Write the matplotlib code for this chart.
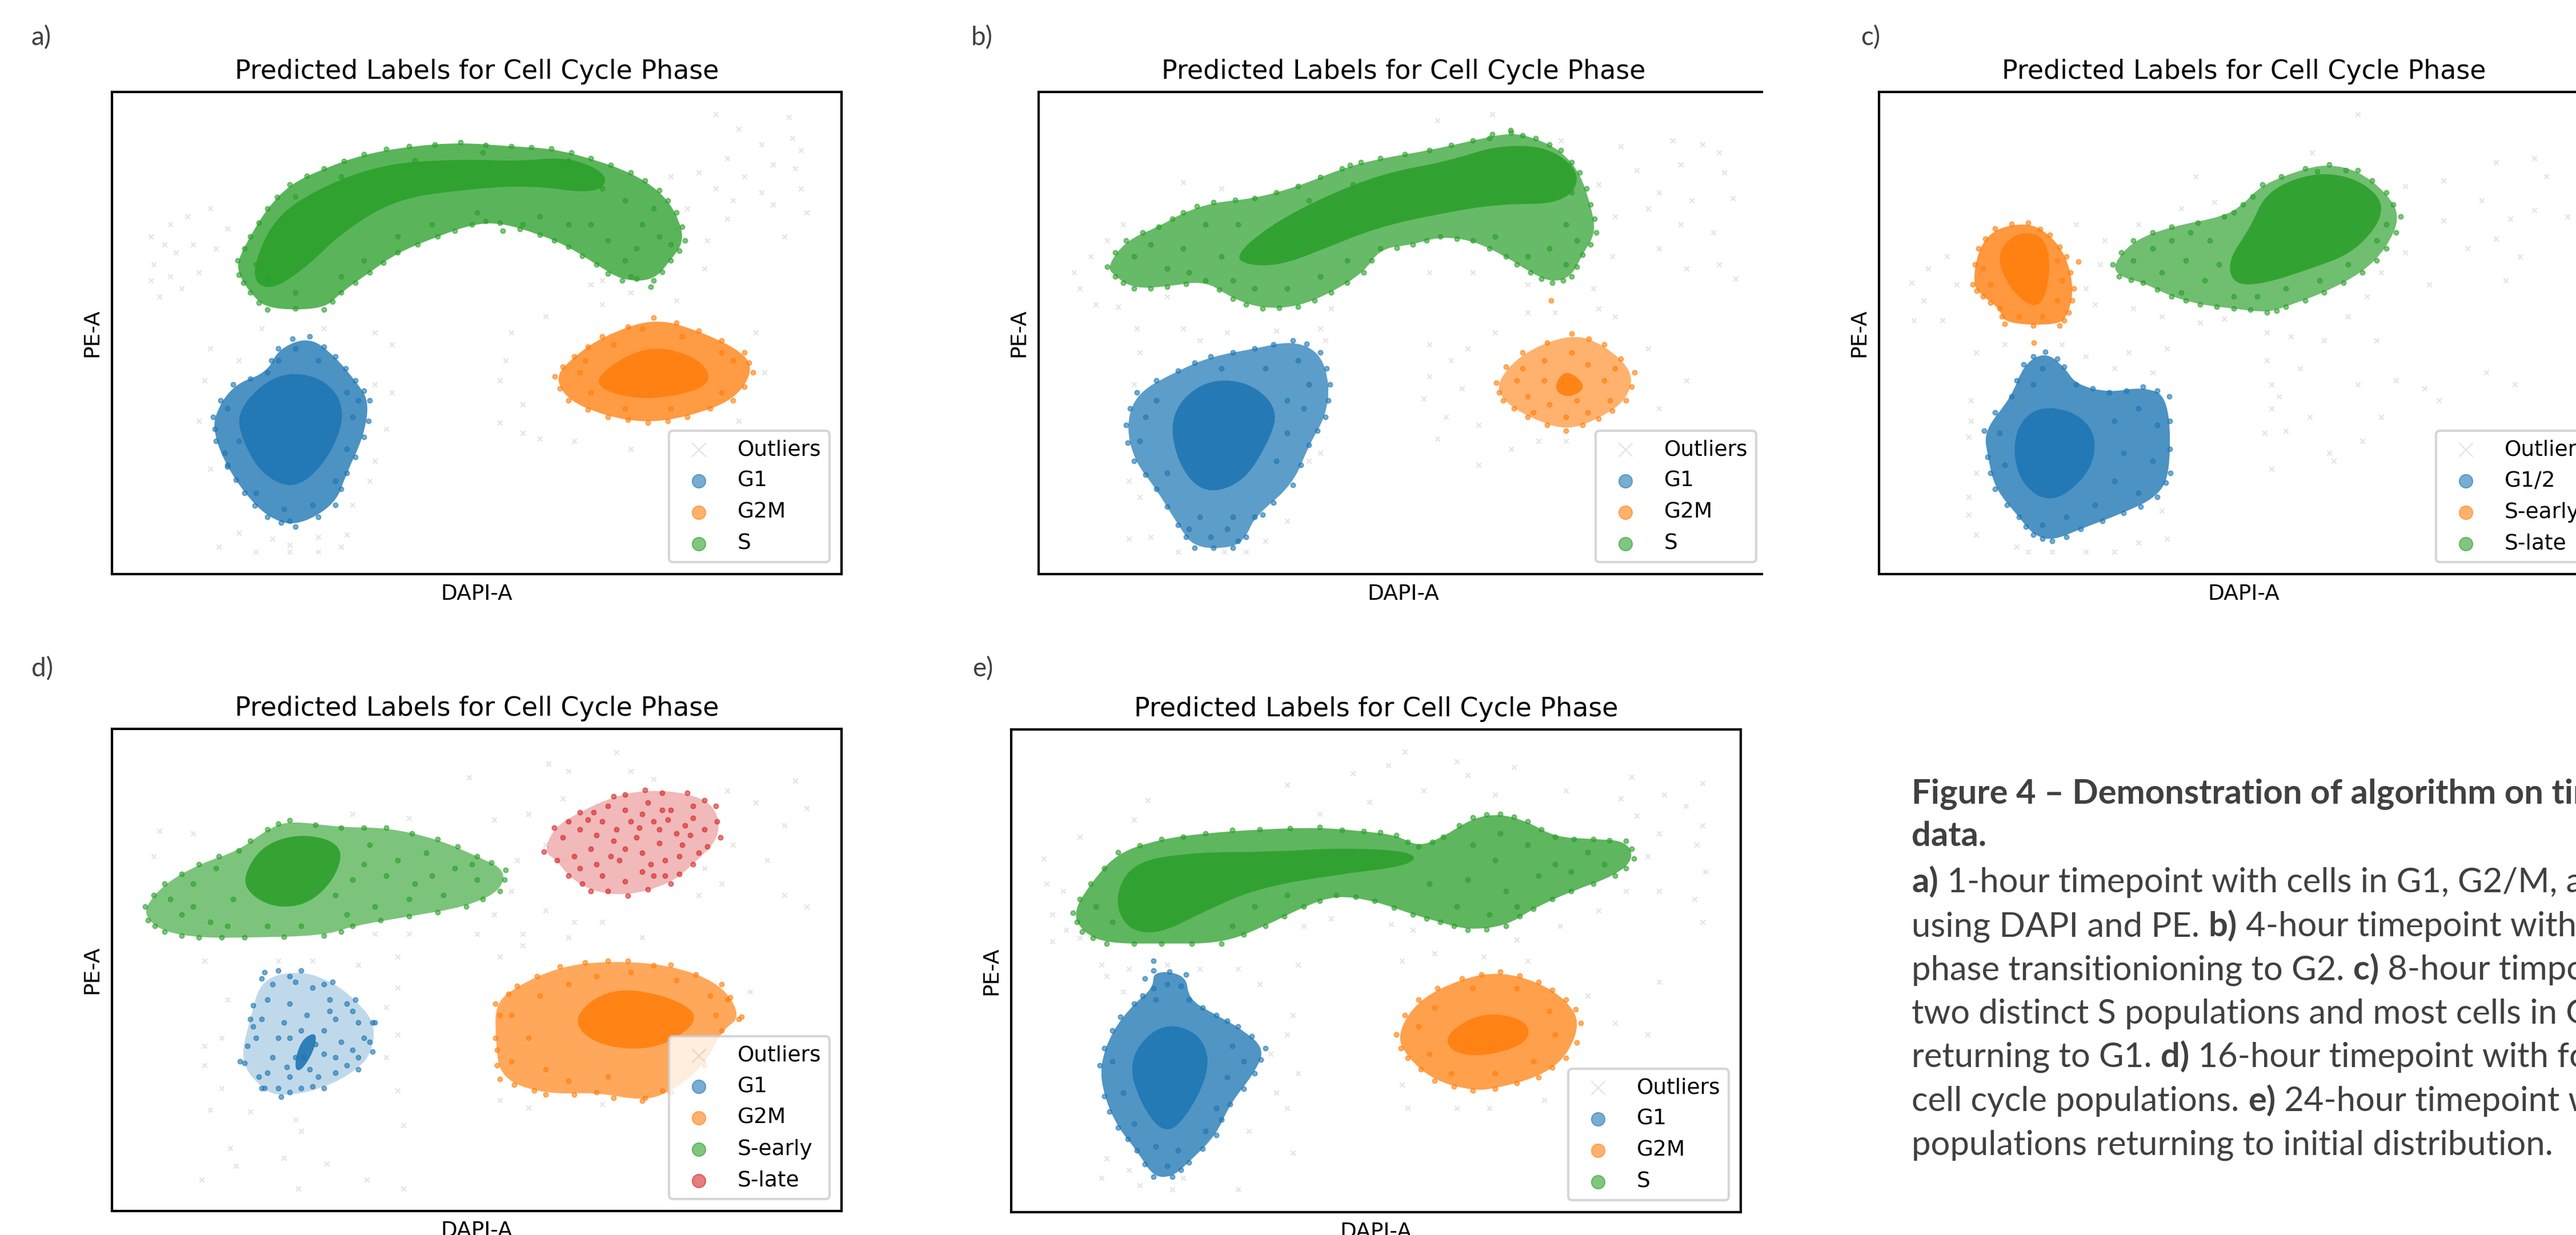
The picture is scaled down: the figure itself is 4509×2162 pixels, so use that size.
import matplotlib
matplotlib.use("Agg")
import matplotlib.pyplot as plt
from matplotlib.patches import PathPatch
from matplotlib.path import Path
import numpy as np

W, H, DPI = 4509, 2162, 300
BLUE, ORANGE, GREEN, RED = "#1f77b4", "#ff7f0e", "#2ca02c", "#d62728"
TITLE = "Predicted Labels for Cell Cycle Phase"
XLABEL = "DAPI-A"
YLABEL = "PE-A"

# All values are estimated by eye from the reference. Axes have no ticks, so the
# data unit is arbitrary. EDGE = outline of a population, CORE = its dense centre,
# DOTS = individually read cells.

# ---------- panel a ----------
A_S_EDGE = [(418,650),(440,590),(470,520),(510,460),(570,420),(640,385),(720,365),(810,355),(900,365),(970,370),(1040,395),(1110,430),(1160,475),(1190,530),(1205,600),(1180,650),(1150,700),(1095,700),(1050,660),(1000,615),(950,585),(880,555),(830,560),(770,590),(700,630),(650,680),(600,730),(570,772),(470,772),(440,730),(420,685)]
A_S_CORE = [(490,630),(520,540),(580,480),(680,425),(800,415),(880,420),(960,410),(1020,450),(1000,490),(900,470),(800,480),(700,500),(620,570),(570,640),(520,690),(490,680)]
A_S_DOTS = [(1100,500),(1130,560),(1160,590),(1120,620),(1070,600),(1040,560),(1100,650),(1000,560),(950,540),(840,530),(760,560),(700,590),(640,650),(600,690),(520,730),(470,700),(450,660),(1150,520),(1060,470),(1180,610),(730,400),(850,380),(600,440),(520,490),(1000,400),
(430,620),(455,555),(488,492),(540,438),(605,402),(680,372),(765,360),(855,362),(935,368),(1005,380),(1075,412),(1135,450),(1175,500),(1200,565),(1195,625),(1165,678),(1120,695),(1070,682),(1025,638),(975,600),(915,572),(855,552),(800,575),(735,610),(675,655),(625,705),(585,752),(520,770),(455,755),(428,705),(1110,690),(920,560),(885,575),(1145,715)]
A_G1_EDGE = [(375,1040),(410,960),(470,930),(490,870),(545,840),(590,890),(625,950),(650,1000),(640,1090),(610,1180),(590,1260),(520,1315),(470,1290),(430,1230),(400,1165),(380,1100)]
A_G1_CORE = [(430,1030),(490,950),(560,960),(595,1030),(570,1130),(520,1200),(470,1170),(440,1100)]
A_G1_DOTS = [(520,870),(560,900),(490,900),(610,980),(620,1040),(400,1020),(420,1100),(610,1120),(590,1200),(450,1230),(500,1270),(550,1260),(510,1300),(400,1160),(630,1000),
(388,1000),(440,945),(478,900),(515,845),(570,865),(608,920),(640,975),(648,1050),(625,1140),(600,1220),(560,1290),(495,1305),(448,1262),(415,1198),(395,1130),(378,1070)]
A_G2M_EDGE = [(976,940),(1010,890),(1060,840),(1150,793),(1230,825),(1310,880),(1325,930),(1290,1000),(1210,1040),(1140,1055),(1070,1040),(1000,1000)]
A_G2M_CORE = [(1060,940),(1140,870),(1220,900),(1240,960),(1150,990),(1080,975)]
A_G2M_DOTS = [(1020,930),(1040,980),(1100,1020),(1180,1020),(1270,980),(1290,900),(1270,880),(1080,860),(1130,820),(1200,840),(1030,900),
(990,915),(1035,865),(1105,815),(1190,805),(1270,850),(1318,905),(1310,965),(1250,1020),(1175,1050),(1105,1048),(1035,1022),(985,970)]
A_OUT = [(1260,285),(1388,292),(1300,322),(1395,345),(1340,360),(1410,375),(1280,395),(1360,410),(1400,420),(1230,430),(1310,440),(1180,440),(1260,470),(1340,480),(1410,470),(1290,500),(1360,510),(1420,530),(1210,520),(1280,545),(1380,590),(1245,600),(1190,570),
(265,590),(300,560),(330,540),(370,520),(400,570),(290,610),(340,610),(380,620),(310,630),(270,660),(300,690),(350,680),(280,740),(320,720),(265,700),
(460,820),(570,820),(660,830),(370,870),(420,900),(690,860),(360,950),(660,960),(690,980),(350,1050),(680,1070),(370,1170),(660,1150),(650,1200),(620,1260),(420,1330),(480,1345),(510,1360),(560,1340),(610,1335),(450,1378),(560,1378),(385,1365),(600,1365),(510,1378),
(900,830),(960,790),(890,900),(880,950),(920,1010),(880,1055),(920,1080),(950,1095),(1010,1100),(1060,760),(1110,730),(1190,750),(1060,700),(1240,670),(1330,830),(1345,930),(1110,1120),(1300,1050),(1040,710)]

# ---------- panel b ----------
B_S_EDGE = [(290,665),(325,600),(385,565),(430,530),(485,505),(560,495),(640,465),(720,420),(790,395),(880,375),(960,350),(1030,330),(1075,345),(1120,375),(1155,430),(1175,510),(1185,580),(1160,635),(1140,690),(1105,705),(1065,680),(1020,640),(960,600),(900,590),(850,610),(790,620),(760,680),(700,730),(640,765),(575,770),(520,745),(470,700),(400,715),(340,720),(305,690)]
B_S_CORE = [(570,620),(620,560),(700,500),(800,445),(900,420),(980,385),(1060,390),(1110,450),(1080,510),(980,510),(890,530),(790,560),(700,610),(640,640),(590,640)]
B_S_DOTS = [(340,640),(370,610),(400,670),(430,620),(470,560),(500,640),(520,700),(560,720),(620,720),(680,690),(730,650),(440,680),(530,560),(1130,560),(1150,600),(1100,620),(1060,640),(1000,590),(1130,660),(1140,480),(740,460),(660,500),
(305,630),(355,580),(410,545),(455,515),(525,498),(600,480),(680,442),(755,405),(835,385),(920,362),(995,335),(1050,338),(1100,360),(1140,405),(1168,470),(1182,545),(1175,610),(1150,665),(1125,700),(1085,695),(1040,660),(990,620),(930,595),(875,600),(820,618),(775,650),(730,705),(670,750),(605,768),(545,760),(495,722),(435,708),(370,720),(320,705),(735,412),(1028,325),(990,345)]
B_G1_EDGE = [(325,1060),(345,980),(420,925),(480,890),(560,870),(630,850),(680,880),(698,960),(690,1040),(660,1110),(630,1210),(560,1290),(545,1340),(520,1368),(450,1368),(420,1310),(380,1220),(340,1150)]
B_G1_CORE = [(420,1040),(470,970),(540,970),(590,1030),(570,1110),(530,1190),(470,1210),(430,1140)]
B_G1_DOTS = [(640,900),(660,960),(650,1020),(620,1080),(600,1150),(360,1040),(350,1100),(380,1000),(400,1180),(440,1320),(480,1340),(510,1320),(460,1290),(520,1290),(580,920),(500,920),(620,1000),
(332,1020),(380,950),(450,905),(520,880),(595,860),(655,858),(692,920),(695,1000),(675,1075),(645,1160),(595,1255),(575,1285),(530,1350),(485,1368),(435,1340),(400,1265),(360,1185),(328,1105)]
B_G2M_EDGE = [(1002,955),(1050,880),(1140,832),(1200,860),(1255,930),(1240,1000),(1190,1045),(1130,1075),(1060,1040),(1015,1000)]
B_G2M_CORE = [(1110,970),(1130,925),(1165,965),(1135,990)]
B_G2M_DOTS = [(1040,950),(1060,990),(1090,900),(1100,1010),(1140,880),(1170,910),(1200,950),(1210,1000),(1170,1030),(1130,1040),(1070,1030),(1090,950),(1220,920),(1050,920),(1150,1000),(1103,750),
(1020,915),(1095,855),(1172,845),(1230,895),(1250,965),(1215,1025),(1160,1060),(1095,1060),(1035,1020),(1008,980)]
B_OUT = [(895,300),(995,285),(1120,350),(1325,350),(1380,360),(1230,365),(1410,380),(1260,425),(1340,410),(1420,430),(1190,460),(1300,480),(1435,495),(1360,500),(1220,540),(1280,520),(1400,580),(1340,560),(1300,620),(1215,640),(1410,660),(1350,670),(1440,695),
(230,680),(260,640),(290,600),(240,720),(270,760),(310,765),(400,740),(700,770),(430,455),(500,470),(320,560),
(345,820),(430,820),(510,830),(600,825),(680,820),(460,850),(350,880),(690,850),(340,960),(330,1200),(350,1240),(680,1130),(660,1150),(620,1300),(330,1345),(370,1340),(420,1378),(505,1378),(545,1378),(580,1350),
(880,860),(920,900),(950,870),(1000,830),(1060,780),(1110,780),(1190,770),(1220,790),(880,940),(940,970),(870,995),(910,1040),(970,1060),(895,1095),(970,1160),(1030,1120),(1080,1100),(1130,1100),(1300,1020),(1350,950),(1280,870),(1060,710),(960,680),(880,680),(1180,720)]

# ---------- panel c ----------
C_L_EDGE = [(597,660),(640,600),(720,565),(830,540),(870,510),(910,460),(1000,420),(1050,410),(1110,425),(1170,480),(1200,540),(1170,620),(1120,680),(1040,730),(960,765),(920,780),(850,770),(780,760),(720,740),(660,705),(610,690)]
C_L_CORE = [(860,640),(900,570),(930,490),(1020,450),(1100,470),(1145,530),(1090,620),(1000,660),(920,690),(870,690)]
C_L_DOTS = [(640,650),(680,620),(720,600),(760,580),(800,600),(700,680),(750,650),(790,700),(740,730),(820,660),(850,740),(900,740),(960,720),(1030,700),(1090,660),(1150,600),(1170,560),
(615,630),(680,580),(775,555),(850,530),(890,490),(950,440),(1025,428),(1085,425),(1140,450),(1185,510),(1190,580),(1150,650),(1080,705),(1000,750),(940,775),(885,772),(815,765),(750,750),(690,722),(635,698)]
C_E_EDGE = [(303,710),(315,620),(350,570),(420,555),(465,585),(500,640),(515,720),(505,780),(485,812),(370,808),(360,770),(325,740)]
C_E_CORE = [(360,640),(400,590),(450,600),(460,680),(440,760),(390,720)]
C_E_DOTS = [(325,670),(340,710),(480,650),(490,700),(480,750),(400,790),(450,790),(432,855),(525,653),
(308,660),(330,595),(385,558),(445,572),(485,615),(508,680),(512,750),(495,800),(430,812),(365,790),(340,755),(312,725)]
C_G_EDGE = [(327,1075),(385,990),(410,910),(455,878),(495,915),(520,960),(590,980),(660,965),(715,990),(718,1180),(690,1240),(620,1280),(530,1320),(470,1350),(430,1335),(400,1290),(350,1220),(335,1140)]
C_G_CORE = [(400,1090),(440,1030),(510,1040),(550,1090),(540,1170),(470,1240),(410,1190)]
C_G_DOTS = [(450,920),(430,960),(600,1050),(650,1020),(690,1060),(620,1130),(680,1150),(600,1200),(650,1230),(560,1260),(500,1290),(450,1310),(370,1160),(360,1080),
(350,1030),(395,950),(430,890),(480,895),(555,970),(625,975),(690,975),(716,1050),(716,1120),(708,1205),(655,1265),(575,1300),(500,1340),(450,1345),(415,1315),(375,1260),(340,1180)]
C_OUT = [(1110,285),(1015,380),(1400,405),(1480,395),(770,440),(1290,450),(1505,440),(1210,465),(1370,500),(1480,525),(1290,550),(1430,545),(810,505),(740,520),(1400,595),(1550,540),(1210,630),(1340,620),(1450,640),(1160,680),(1260,710),(1130,740),(1420,700),
(175,705),(210,670),(250,640),(270,710),(200,750),(180,800),(240,800),(520,560),(580,600),(650,560),(570,660),(540,720),(560,760),(640,770),(700,790),(780,805),(830,795),(1090,790),
(310,880),(370,860),(490,860),(540,890),(630,880),(710,870),(600,920),(680,930),(300,1000),(300,1050),(295,1090),(310,1180),(295,1240),(295,1285),(310,1335),(395,1365),(420,1378),(470,1378),(540,1378),(600,1378),(650,1355),(710,1345),(700,1275),
(920,830),(970,840),(1040,850),(1150,850),(920,900),(990,920),(930,960),(945,990),(930,1020),(1010,1040),(915,1080),(960,1075),(930,1170),(1050,1130),(1110,960),(1160,1040),(1120,1100),(1190,950),(1250,970),(1380,930),(1440,960),(1280,1000),(1060,1150)]

# ---------- panel d ----------
D_E_EDGE = [(255,720),(290,660),(350,610),(420,575),(470,520),(510,497),(600,515),(680,515),(770,545),(840,590),(890,625),(880,680),(820,720),(720,745),(620,770),(570,795),(430,800),(350,800),(290,785),(260,755)]
D_E_CORE = [(440,640),(470,570),(530,545),(590,570),(580,640),(540,700),(490,710),(450,680)]
D_E_DOTS = [(300,700),(340,660),(380,620),(320,740),(370,760),(410,700),(650,560),(700,600),(750,580),(800,620),(840,650),(780,690),(720,700),(660,720),(620,650),(610,740),(470,770),(530,770),(400,770),(680,640),
(270,690),(320,635),(385,590),(440,550),(490,505),(555,508),(640,515),(725,530),(805,565),(865,605),(888,650),(850,700),(770,735),(670,755),(600,785),(500,798),(390,800),(320,795),(272,770),(340,720),(760,640),(590,690),(640,610),(730,660),(830,610)]
D_L_EDGE = [(957,578),(975,515),(1020,475),(1080,435),(1135,418),(1210,425),(1260,460),(1268,540),(1220,610),(1180,660),(1105,692),(1040,680),(1000,640),(980,600)]
D_L_DOTS = [(1020,520),(1060,500),(1100,470),(1140,450),(1180,470),(1220,490),(1160,520),(1120,540),(1080,550),(1040,570),(1010,590),(1090,600),(1130,630),(1170,600),(1200,560),(1240,520),(1060,640),(1020,620),(1150,500),(1190,530),(1110,500),(1075,590),(1130,580),(1170,640),(1230,580),
(990,540),(1000,500),(1045,475),(1100,430),(1165,425),(1240,445),(1262,500),(1245,565),(1195,635),(1140,675),(1070,680),(1025,660),(1160,555),(1205,510),(1130,480),(1085,520),(1050,535),(1165,470),(1215,535),(1100,570),(1145,610),(1100,655),(1050,610),(1195,590),(1220,460),(1125,515),(1175,495),(1035,495),(1070,460),(1150,640)]
D_G2M_EDGE = [(872,970),(910,925),(985,875),(1070,860),(1180,870),(1270,920),(1305,1005),(1270,1040),(1240,1130),(1180,1200),(1130,1222),(1050,1200),(960,1205),(880,1165),(872,1060)]
D_G2M_CORE = [(1020,1010),(1080,940),(1170,960),(1220,1010),(1150,1080),(1060,1070)]
D_G2M_DOTS = [(900,1000),(930,1060),(900,1120),(960,1140),(1000,1170),(1070,1160),(950,950),(1000,920),(1050,900),(1110,890),(1190,910),(1250,950),(1260,1000),(1280,960),
(880,1000),(895,945),(945,900),(1030,865),(1105,860),(1150,872),(1225,895),(1285,955),(1300,1010),(905,1180),(940,1195),(1010,1205),(1080,1215),(1135,1215),(1165,1195),(875,1130),(875,1090)]
D_G1_EDGE = [(422,1120),(440,1010),(460,905),(530,885),(585,915),(625,960),(660,1020),(655,1095),(630,1140),(570,1190),(495,1212),(460,1190)]
D_G1_CORE = [(520,1130),(530,1070),(555,1050),(550,1095),(530,1140)]
D_G1_DOTS = [(480,920),(510,900),(550,930),(470,960),(510,970),(580,960),(610,970),(460,1010),(500,1020),(540,1000),(590,1010),(630,1020),(450,1060),(490,1060),(600,1070),(640,1060),(480,1110),(520,1110),(570,1100),(610,1130),(470,1150),(510,1160),(560,1160),(490,1190),(530,1190),
(465,890),(490,885),(520,915),(445,975),(445,1030),(435,1080),(430,1125),(455,1160),(465,1190),(510,1200),(550,1185),(590,1150),(630,1110),(650,1070),(655,1020),(620,990),(570,920),(580,990),(530,1040),(510,1060),(570,1040),(555,1075),(535,1110),(505,1135),(545,1140),(590,1110),(620,1090)]
D_OUT = [(1085,320),(965,350),(1000,370),(1110,370),(825,385),(1150,390),(1400,395),(1280,420),(1330,450),(1420,465),(990,440),(930,480),(870,495),(1380,510),(620,480),(280,525),(1290,560),(1350,600),(1240,620),(1270,660),(1380,690),(1420,720),(1230,690),
(270,590),(340,530),(720,490),(910,600),(960,560),(900,680),(960,730),(1010,760),(920,790),(870,740),(840,790),(1060,760),(1130,800),(1000,800),(720,790),(660,790),
(360,860),(490,860),(550,860),(700,850),(630,870),(400,960),(700,930),(680,980),(390,1060),(360,1080),(700,1050),(680,1110),(360,1130),(390,1190),(700,1195),(370,1245),(440,1250),(520,1270),(530,1300),(710,1285),(405,1345),(415,1390),(500,1370),(575,1385),(355,1425),(645,1425),(525,1450),(710,1450),
(880,850),(920,820),(880,1220),(930,1240),(1060,1230),(1320,940),(1280,1060)]

# ---------- panel e ----------
E_S_EDGE = [(228,735),(260,660),(310,580),(390,545),(470,530),(570,520),(680,515),(760,525),(820,535),(860,565),(905,540),(960,490),(1010,480),(1060,500),(1110,540),(1180,545),(1240,550),(1255,595),(1220,640),(1140,680),(1070,725),(1020,770),(950,780),(900,760),(850,740),(780,705),(710,690),(650,720),(580,770),(500,815),(390,815),(290,815),(245,785)]
E_S_CORE = [(340,690),(370,610),(470,590),(580,590),(700,580),(810,590),(800,620),(680,640),(560,670),(480,720),(410,770),(360,760)]
E_S_DOTS = [(960,560),(1010,530),(1060,560),(1000,600),(950,650),(1020,680),(1080,640),(1110,610),(1170,580),(1200,610),(930,720),(990,740),(880,660),(270,720),(300,760),(560,720),(520,770),(620,690),(1140,630),(1040,720),
(240,700),(285,620),(350,562),(430,540),(520,522),(625,518),(720,522),(790,528),(840,552),(885,552),(935,510),(985,482),(1035,488),(1085,520),(1145,545),(1210,548),(1250,570),(1240,620),(1180,660),(1105,700),(1045,745),(985,778),(925,770),(875,750),(815,722),(745,695),(680,705),(615,745),(540,792),(445,815),(340,815),(265,800),(235,760)]
E_G1_EDGE = [(277,1130),(300,1040),(340,970),(375,930),(375,885),(435,895),(440,960),(490,1000),(530,1030),(580,1085),(560,1150),(515,1230),(490,1310),(440,1380),(410,1418),(375,1418),(345,1350),(310,1290),(285,1210)]
E_G1_CORE = [(340,1120),(390,1040),(450,1060),(470,1130),(440,1230),(400,1290),(360,1220)]
E_G1_DOTS = [(400,920),(380,960),(520,1080),(540,1120),(510,1160),(300,1120),(320,1200),(340,1280),(380,1340),(420,1350),(400,1390),(470,1300),(490,1240),(375,860),
(285,1085),(315,1005),(355,950),(360,905),(405,888),(425,925),(465,980),(510,1015),(555,1055),(572,1115),(540,1190),(500,1270),(465,1345),(425,1400),(360,1385),(328,1320),(295,1250)]
E_G2M_EDGE = [(820,1050),(860,960),(940,905),(1010,888),(1080,915),(1130,960),(1157,1020),(1130,1110),(1080,1160),(1000,1190),(960,1195),(890,1170),(840,1110)]
E_G2M_CORE = [(920,1050),(980,1000),(1050,1020),(1050,1070),(980,1100),(930,1090)]
E_G2M_DOTS = [(860,1030),(880,1100),(920,1150),(1000,1150),(1070,1120),(1110,1050),(1100,990),(1040,930),(960,930),(890,980),
(835,1000),(895,930),(975,895),(1045,898),(1105,935),(1148,985),(1150,1070),(1105,1135),(1040,1175),(925,1185),(865,1140),(828,1085)]
E_OUT = [(835,320),(930,345),(805,355),(1035,360),(740,375),(950,380),(1250,385),(620,405),(1380,400),(870,420),(1000,430),(1130,420),(1230,440),(1310,430),(770,450),(1260,485),(1350,460),(1380,510),(680,480),(1300,530),(1370,560),(1280,590),(1385,630),(1240,680),(1300,680),(1365,700),(1190,730),(1380,760),(1120,770),
(175,595),(240,540),(365,445),(340,495),(210,680),(180,660),(190,740),(215,780),(190,810),(240,800),(650,770),(700,750),(810,765),(850,780),(1040,805),
(280,870),(330,880),(400,870),(460,880),(530,880),(640,870),(570,920),(290,900),(320,940),(630,1000),(620,1050),(590,1100),(640,1150),(600,1200),(620,1240),(630,1355),(550,1300),(290,1370),(330,1400),(350,1440),(410,1450),(430,1420),(530,1450),(280,1420),
(830,860),(890,840),(980,850),(1060,860),(1300,915),(1220,1020),(1280,1050),(830,1180),(840,1240),(930,1240),(990,1240),(1090,1220),(1170,950)]

LEGEND_A = ["Outliers", "G1", "G2M", "S"]
LEGEND_C = ["Outliers", "G1/2", "S-early", "S-late"]
LEGEND_D = ["Outliers", "G1", "G2M", "S-early", "S-late"]

TAG_FONT = ["Lato", "DejaVu Sans"]
TEXT_COLOR = "#404040"

fig = plt.figure(figsize=(W / DPI, H / DPI), dpi=DPI, facecolor="white")
plt.rcParams["font.family"] = "DejaVu Sans"


def xy(pts):
    a = np.asarray(pts, float)
    return a[:, 0], a[:, 1]


def blob(ax, pts, color, alpha, zorder, grow=1.0):
    """Closed outline with rounded corners; the read points are the Bezier control points."""
    p = np.asarray(pts, float)
    c = p.mean(axis=0)
    p = c + (p - c) * grow
    mids = (p + np.roll(p, -1, axis=0)) / 2
    verts, codes = [mids[-1]], [Path.MOVETO]
    for ctrl, mid in zip(p, mids):
        verts += [ctrl, mid]
        codes += [Path.CURVE3, Path.CURVE3]
    ax.add_patch(PathPatch(Path(verts, codes), facecolor=color, edgecolor="none", alpha=alpha, zorder=zorder))


def population(ax, label, color, edge, core=None, dots=(), fill=0.62):
    blob(ax, edge, color, fill, 3)
    if core is not None:
        blob(ax, core, color, 0.9, 3.1, grow=1.18)
    px, py = xy(list(edge) + list(dots))
    return ax.scatter(px, py, s=3.7, color=color, alpha=0.6, linewidths=0.5, zorder=3.2, label=label)


def panel(box, xlim, ylim, outliers, pops, labels):
    x0, y0, x1, y1 = box
    ax = fig.add_axes([x0 / W, 1 - y1 / H, (x1 - x0) / W, (y1 - y0) / H])
    ax.set_xlim(*xlim)
    ax.set_ylim(*ylim)
    ax.set_xticks([])
    ax.set_yticks([])
    for s in ax.spines.values():
        s.set_linewidth(1.0)
    ox, oy = xy(outliers)
    ax.scatter(ox, oy, s=4, marker="x", color="gray", alpha=0.2, linewidths=0.6, zorder=2, label=labels[0])
    for lab, p in zip(labels[1:], pops):
        population(ax, lab, **p)
    ax.set_title(TITLE, fontsize=11, pad=5.5)
    ax.set_xlabel(XLABEL, fontsize=9, labelpad=4)
    ax.set_ylabel(YLABEL, fontsize=9, labelpad=4)
    leg = ax.legend(loc="lower right", fontsize=9, markerscale=2.9, framealpha=0.8, borderaxespad=0.55)
    leg.set_zorder(10)
    return ax


BOX_A = (196, 161, 1473, 1005)
BOX_B = (1818, 161, 3095, 1005)
BOX_C = (3289, 161, 4566, 1005)
BOX_D = (196, 1276, 1473, 2120)
BOX_E = (1770, 1277, 3047, 2122)

panel(BOX_A, (197, 1481), (1433, 229), A_OUT, [
    dict(color=BLUE, edge=A_G1_EDGE, core=A_G1_CORE, dots=A_G1_DOTS, fill=0.8),
    dict(color=ORANGE, edge=A_G2M_EDGE, core=A_G2M_CORE, dots=A_G2M_DOTS, fill=0.78),
    dict(color=GREEN, edge=A_S_EDGE, core=A_S_CORE, dots=A_S_DOTS, fill=0.78),
], LEGEND_A)

ax_b = panel(BOX_B, (165, 1500), (1433, 229), B_OUT, [
    dict(color=BLUE, edge=B_G1_EDGE, core=B_G1_CORE, dots=B_G1_DOTS, fill=0.72),
    dict(color=ORANGE, edge=B_G2M_EDGE, core=B_G2M_CORE, dots=B_G2M_DOTS, fill=0.6),
    dict(color=GREEN, edge=B_S_EDGE, core=B_S_CORE, dots=B_S_DOTS, fill=0.72),
], LEGEND_A)
# the reference crops this panel just before its right spine
ax_b.spines["right"].set_visible(False)
ax_b.spines["top"].set_bounds(165, 1488)
ax_b.spines["bottom"].set_bounds(165, 1488)

panel(BOX_C, (107, 1636), (1433, 229), C_OUT, [
    dict(color=BLUE, edge=C_G_EDGE, core=C_G_CORE, dots=C_G_DOTS, fill=0.8),
    dict(color=ORANGE, edge=C_E_EDGE, core=C_E_CORE, dots=C_E_DOTS, fill=0.8),
    dict(color=GREEN, edge=C_L_EDGE, core=C_L_CORE, dots=C_L_DOTS, fill=0.68),
], LEGEND_C)

panel(BOX_D, (197, 1481), (1507, 260), D_OUT, [
    dict(color=BLUE, edge=D_G1_EDGE, core=D_G1_CORE, dots=D_G1_DOTS, fill=0.28),
    dict(color=ORANGE, edge=D_G2M_EDGE, core=D_G2M_CORE, dots=D_G2M_DOTS, fill=0.68),
    dict(color=GREEN, edge=D_E_EDGE, core=D_E_CORE, dots=D_E_DOTS, fill=0.62),
    dict(color=RED, edge=D_L_EDGE, dots=D_L_DOTS, fill=0.32),
], LEGEND_D)

panel(BOX_E, (115, 1450), (1509, 262), E_OUT, [
    dict(color=BLUE, edge=E_G1_EDGE, core=E_G1_CORE, dots=E_G1_DOTS, fill=0.78),
    dict(color=ORANGE, edge=E_G2M_EDGE, core=E_G2M_CORE, dots=E_G2M_DOTS, fill=0.74),
    dict(color=GREEN, edge=E_S_EDGE, core=E_S_CORE, dots=E_S_DOTS, fill=0.76),
], LEGEND_A)

# panel tags
TAGS = [("a)", 55, 66), ("b)", 1700, 66), ("c)", 3257, 66), ("d)", 55, 1171), ("e)", 1702, 1171)]
for t, x, y in TAGS:
    fig.text(x / W, 1 - y / H, t, family=TAG_FONT, fontsize=11, color=TEXT_COLOR, va="center", ha="left")

# caption: (text, bold) runs; lines are cut by the right edge of the image
CAPTION = [
    [("Figure 4 – Demonstration of algorithm on tim", True)],
    [("data.", True)],
    [("a)", True), (" 1-hour timepoint with cells in G1, G2/M, a", False)],
    [("using DAPI and PE. ", False), ("b)", True), (" 4-hour timepoint with c", False)],
    [("phase transitionioning to G2. ", False), ("c)", True), (" 8-hour timpo", False)],
    [("two distinct S populations and most cells in G", False)],
    [("returning to G1. ", False), ("d)", True), (" 16-hour timepoint with fo", False)],
    [("cell cycle populations. ", False), ("e)", True), (" 24-hour timepoint w", False)],
    [("populations returning to initial distribution.", False)],
]
CAPTION_Y = [1385, 1459, 1540, 1617, 1693, 1770, 1846, 1923, 1999]
CAPTION_X = 3346
fig.canvas.draw()
renderer = fig.canvas.get_renderer()
for runs, yy in zip(CAPTION, CAPTION_Y):
    x = CAPTION_X
    for s, bold in runs:
        t = fig.text(x / W, 1 - yy / H, s, family=TAG_FONT, fontsize=14.35, color=TEXT_COLOR,
                     fontweight="bold" if bold else "normal", va="center_baseline", ha="left")
        x = t.get_window_extent(renderer).x1

fig.savefig("out.png", dpi=DPI, facecolor="white")
